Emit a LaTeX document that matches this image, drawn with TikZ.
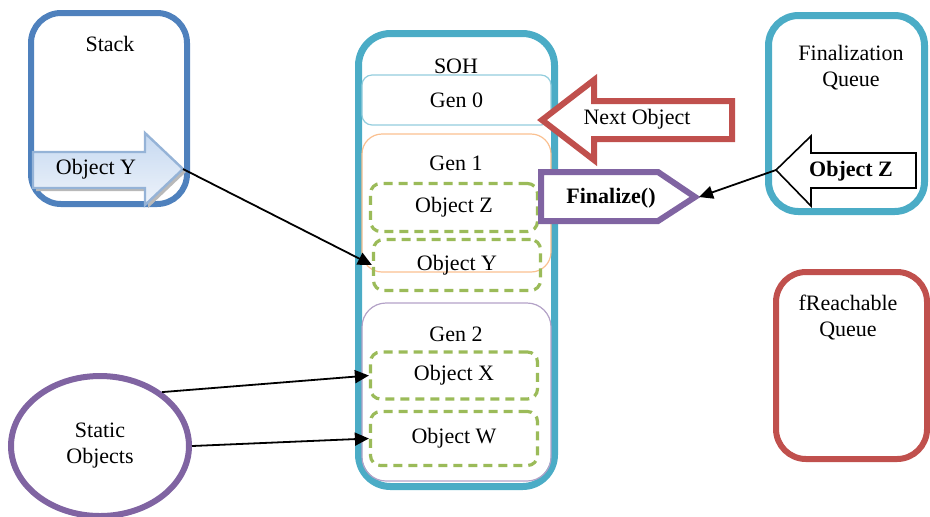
\documentclass[tikz,border=0pt]{standalone}
\usepackage{fontspec}
\setmainfont{Liberation Serif}
\usetikzlibrary{arrows.meta}
\usetikzlibrary{shapes.geometric}

\definecolor{stackblue}{HTML}{4F81BD}
\definecolor{sohcyan}{HTML}{4BACC6}
\definecolor{nextred}{HTML}{C0504D}
\definecolor{finpurple}{HTML}{8064A2}
\definecolor{dashgreen}{HTML}{9BBB59}
\definecolor{genzero}{HTML}{93CDDD}
\definecolor{genone}{HTML}{FAC090}
\definecolor{gentwo}{HTML}{B3A2C7}
\definecolor{arrowline}{HTML}{95B3D7}
\definecolor{arrowtop}{HTML}{C6D9F1}
\definecolor{arrowbot}{HTML}{EEF3FA}

\begin{document}
\begin{tikzpicture}[x=0.5pt,y=-0.5pt,font=\rmfamily\fontsize{11}{13}\selectfont,
    bigbox/.style={draw,line width=3pt,rounded corners=15pt,inner sep=0pt},
    genbox/.style={draw,line width=0.6pt,inner sep=0pt,minimum width=94.5pt},
    objbox/.style={draw=dashgreen,line width=1.6pt,dash pattern=on 4.5pt off 3pt,
        rounded corners=5pt,inner sep=0pt,minimum width=83.5pt},
    fatarrow/.style={draw,fill=white,line width=3pt,line join=miter},
    conn/.style={-{Triangle[length=7pt,width=6.5pt]},line width=0.9pt}]
    \useasboundingbox (0,0) rectangle (930,516);

    % outer boxes
    \node[bigbox,draw=stackblue,minimum width=78pt,minimum height=95.5pt] (stack) at (109,108.5) {};
    \node (stacklbl) at (110,44) {Stack};
    \node[bigbox,draw=sohcyan,line width=3.5pt,rounded corners=16pt,minimum width=98pt,minimum height=226.5pt] (soh) at (456.5,260) {};
    \node (sohlbl) at (456,66) {SOH};
    \node[bigbox,draw=sohcyan,line width=3.5pt,minimum width=78pt,minimum height=98pt] (finq) at (846.5,113.5) {};
    \node[align=center] (finqlbl) at (851,68) {Finalization\\Queue};
    \node[bigbox,draw=nextred,minimum width=75.5pt,minimum height=93.5pt] (freach) at (851.5,365.5) {};
    \node[align=center] (freachlbl) at (848,318) {fReachable\\Queue};

    % generations
    \node[genbox,draw=genzero,rounded corners=5pt,minimum height=25pt] (gen0) at (456.5,100) {Gen 0};
    \node[genbox,draw=genone,rounded corners=10pt,minimum height=69pt] (gen1) at (456.5,203) {};
    \node (gen1lbl) at (456,163) {Gen 1};
    \node[genbox,draw=gentwo,rounded corners=12pt,minimum height=89pt] (gen2) at (456.5,392) {};
    \node (gen2lbl) at (456,334) {Gen 2};

    % objects on the heap
    \node[objbox,minimum height=24pt] (objz) at (454,207.5) {Object Z};
    \node[objbox,minimum height=25.5pt] (objy) at (457,265) {Object Y};
    \node[objbox,minimum height=23.5pt] (objx) at (454,375.5) {Object X};
    \node[objbox,minimum height=27pt] (objw) at (454,438.5) {Object W};

    % static objects
    \node[draw=finpurple,line width=3pt,ellipse,inner sep=0pt,minimum width=89pt,minimum height=70pt,align=center] (static) at (100,446) {Static\\Objects};

    % arrow on the stack
    \fill[gray!55,shift={(3,3)}] (33,152) -- (145,152) -- (145,133) -- (183,169) -- (145,205) -- (145,188) -- (33,188) -- cycle;
    \draw[line width=1.2pt,draw=arrowline,top color=arrowtop,bottom color=arrowbot] (33,152) -- (145,152) -- (145,133) -- (183,169) -- (145,205) -- (145,188) -- (33,188) -- cycle;
    \coordinate (ytip) at (183,169);
    \node (stackobjy) at (96,169) {Object Y};

    % next object and finalize
    \draw[fatarrow,draw=nextred] (542,120) -- (594,80) -- (594,101) -- (732,101) -- (732,139) -- (594,139) -- (594,160) -- cycle;
    \node (nextobj) at (637,119) {Next Object};
    \draw[fatarrow,draw=finpurple] (541,172) -- (658,172) -- (695,197) -- (658,221) -- (541,221) -- cycle;
    \coordinate (fintip) at (699,197);
    \node[font=\rmfamily\fontsize{11}{13}\selectfont\bfseries] (finalize) at (611,198) {Finalize()};

    % object in the finalization queue
    \draw[fatarrow,line width=0.8pt] (776,170) -- (811,136) -- (811,153) -- (916,153) -- (916,188) -- (811,188) -- (811,206) -- cycle;
    \coordinate (ztip) at (776,170);
    \node[font=\rmfamily\fontsize{11}{13}\selectfont\bfseries] (qobjz) at (851,171) {Object Z};

    % connectors
    \draw[conn] (ytip) -- (objy.west);
    \draw[conn] (static.41) -- (objx.west);
    \draw[conn] (static.east) -- (objw.west);
    \draw[conn] (ztip) -- (fintip);
\end{tikzpicture}
\end{document}
